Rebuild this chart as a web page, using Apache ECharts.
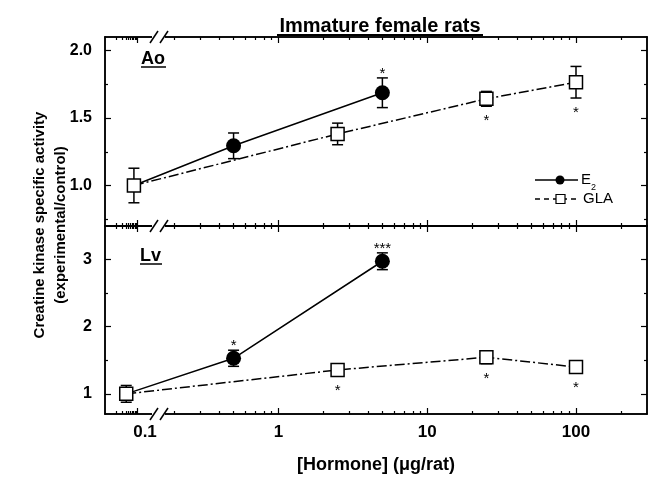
<!DOCTYPE html>
<html>
<head>
<meta charset="utf-8">
<script src="https://cdn.jsdelivr.net/npm/echarts@6/dist/echarts.min.js"></script>
<style>
html,body{margin:0;padding:0;background:#fff;}
#chart{width:648px;height:477px;}
</style>
</head>
<body>
<div id="chart"></div>
<script>
// x axis (log) ticks and labels
var xMajorTicks = [1, 10, 100];
var xMinorTicks = [0.2, 0.3, 0.4, 0.5, 0.6, 0.7, 0.8, 0.9, 2, 3, 4, 5, 6, 7, 8, 9, 20, 30, 40, 50, 60, 70, 80, 90, 200];
// compressed ticks left of the axis break
var breakMinorTicks = [0.081, 0.0893, 0.0946, 0.0985, 0.1017, 0.1043, 0.1066, 0.1087, 0.1104];
var breakMajorTicks = [0.1121];
var xLabelValues = [0.127, 1, 10, 100];
var xLabelTexts = ['0.1', '1', '10', '100'];

// y ticks per panel
var aoMajorTicks = [1.0, 1.5, 2.0];
var aoMinorTicks = [0.75, 1.25, 1.75];
var lvMajorTicks = [1, 2, 3];
var lvMinorTicks = [1.5, 2.5];

// Ao panel
var aoE2X = [0.107, 0.5, 5];
var aoE2Y = [1.0, 1.294, 1.687];
var aoE2Err = [0, 0.095, 0.11];
var aoE2Stars = ['', '', '*'];
var aoGlaX = [0.107, 2.5, 25, 100];
var aoGlaY = [1.0, 1.382, 1.642, 1.765];
var aoGlaErr = [0.128, 0.08, 0.055, 0.117];
var aoGlaStars = ['', '', '*', '*'];

// Lv panel
var lvE2X = [0.095, 0.5, 5];
var lvE2Y = [1.0, 1.53, 2.975];
var lvE2Err = [0, 0.12, 0.125];
var lvE2Stars = ['', '*', '***'];
var lvGlaX = [0.095, 2.5, 25, 100];
var lvGlaY = [1.0, 1.356, 1.545, 1.40];
var lvGlaErr = [0.125, 0.09, 0.095, 0.09];
var lvGlaStars = ['', '*', '*', '*'];

var FONT = '"Liberation Sans", Arial, Helvetica, sans-serif';
var xMin = 0.0684, xMax = 300;
var yMin = [0.7, 0.7], yMax = [2.1, 3.5];
var grids = [
    {left: 105, right: 1, top: 37, height: 189},
    {left: 105, right: 1, top: 226, height: 188}
];

function xAxis(g, pos, ticks, len, labels) {
    return {
        type: 'log', gridIndex: g, position: pos, min: xMin, max: xMax,
        axisLine: {show: true, lineStyle: {color: '#000', width: 1.5}},
        axisTick: {show: true, inside: true, length: len, customValues: ticks, lineStyle: {color: '#000', width: 1.2}},
        axisLabel: labels ? {
            show: true, customValues: xLabelValues, margin: 10,
            color: '#000', fontFamily: FONT, fontWeight: 'bold', fontSize: 17,
            formatter: function (v) {
                var best = 0;
                for (var i = 1; i < xLabelValues.length; i++) {
                    if (Math.abs(Math.log(xLabelValues[i] / v)) < Math.abs(Math.log(xLabelValues[best] / v))) best = i;
                }
                return xLabelTexts[best];
            }
        } : {show: false},
        name: labels ? '[Hormone] (\u03bcg/rat)' : '',
        nameLocation: 'middle', nameGap: 42,
        nameTextStyle: {color: '#000', fontFamily: FONT, fontWeight: 'bold', fontSize: 18},
        splitLine: {show: false}, minorTick: {show: false}, minorSplitLine: {show: false}
    };
}

function yAxis(g, pos, ticks, len, labels, digits) {
    return {
        type: 'value', gridIndex: g, position: pos, min: yMin[g], max: yMax[g],
        axisLine: {show: true, lineStyle: {color: '#000', width: 1.5}},
        axisTick: {show: true, inside: true, length: len, customValues: ticks, lineStyle: {color: '#000', width: 1.2}},
        axisLabel: labels ? {
            show: true, customValues: ticks, margin: 13,
            color: '#000', fontFamily: FONT, fontWeight: 'bold', fontSize: 16,
            formatter: function (v) { return v.toFixed(digits); }
        } : {show: false},
        splitLine: {show: false}, minorTick: {show: false}, minorSplitLine: {show: false}
    };
}

var xAxes = [], yAxes = [];
[0, 1].forEach(function (g) {
    xAxes.push(xAxis(g, 'bottom', xMajorTicks.concat(breakMajorTicks), 6, g === 1));
    xAxes.push(xAxis(g, 'bottom', xMinorTicks.concat(breakMinorTicks), 3, false));
    xAxes.push(xAxis(g, 'top', xMajorTicks.concat(breakMajorTicks), 6, false));
    xAxes.push(xAxis(g, 'top', xMinorTicks.concat(breakMinorTicks), 3, false));
    var maj = g === 0 ? aoMajorTicks : lvMajorTicks;
    var min = g === 0 ? aoMinorTicks : lvMinorTicks;
    var dig = g === 0 ? 1 : 0;
    yAxes.push(yAxis(g, 'left', maj, 6, true, dig));
    yAxes.push(yAxis(g, 'left', min, 3, false, dig));
    yAxes.push(yAxis(g, 'right', maj, 6, false, dig));
    yAxes.push(yAxis(g, 'right', min, 3, false, dig));
});

function errorSeries(g, xs, ys, errs, stars, below) {
    return {
        type: 'custom', xAxisIndex: 4 * g, yAxisIndex: 4 * g, z: 1,
        data: xs.map(function (x, i) { return [x, ys[i], errs[i]]; }),
        renderItem: function (params, api) {
            var x = api.value(0), y = api.value(1), e = api.value(2);
            var hi = api.coord([x, y + e]), lo = api.coord([x, y - e]);
            var st = {stroke: '#000', lineWidth: 1.5};
            var kids = [];
            if (e > 0) {
                kids.push({type: 'line', shape: {x1: hi[0], y1: hi[1], x2: lo[0], y2: lo[1]}, style: st});
                kids.push({type: 'line', shape: {x1: hi[0] - 5.5, y1: hi[1], x2: hi[0] + 5.5, y2: hi[1]}, style: st});
                kids.push({type: 'line', shape: {x1: lo[0] - 5.5, y1: lo[1], x2: lo[0] + 5.5, y2: lo[1]}, style: st});
            }
            var s = stars[params.dataIndex];
            if (s) {
                kids.push({
                    type: 'text', x: hi[0], y: below ? lo[1] + 15 : hi[1] - 4,
                    style: {text: s, fill: '#000', font: '15px ' + FONT, align: 'center', verticalAlign: 'middle'}
                });
            }
            return {type: 'group', children: kids};
        }
    };
}

function e2Series(g, xs, ys) {
    return {
        type: 'line', xAxisIndex: 4 * g, yAxisIndex: 4 * g, z: 3,
        data: xs.map(function (x, i) {
            return i === 0 ? {value: [x, ys[i]], symbol: 'none'} : [x, ys[i]];
        }),
        symbol: 'circle', symbolSize: 15,
        itemStyle: {color: '#000'},
        lineStyle: {color: '#000', width: 1.5, type: 'solid'}
    };
}

function glaSeries(g, xs, ys) {
    return {
        type: 'line', xAxisIndex: 4 * g, yAxisIndex: 4 * g, z: 4,
        data: xs.map(function (x, i) { return [x, ys[i]]; }),
        symbol: 'rect', symbolSize: 13,
        itemStyle: {color: '#fff', borderColor: '#000', borderWidth: 1.5},
        lineStyle: {color: '#000', width: 1.5, type: [10, 3, 2, 3]}
    };
}

function breakMark(y) {
    return [
        {type: 'rect', z: 100, shape: {x: 152, y: y - 2, width: 13, height: 4}, style: {fill: '#fff'}},
        {type: 'line', z: 101, shape: {x1: 150, y1: y + 6, x2: 158, y2: y - 6}, style: {stroke: '#000', lineWidth: 1.5}},
        {type: 'line', z: 101, shape: {x1: 160, y1: y + 6, x2: 168, y2: y - 6}, style: {stroke: '#000', lineWidth: 1.5}}
    ];
}

var graphics = [
    {type: 'text', x: 380, y: 26, z: 100, style: {text: 'Immature female rats', fill: '#000', font: 'bold 20px ' + FONT, align: 'center', verticalAlign: 'middle'}},
    {type: 'line', z: 100, shape: {x1: 277, y1: 35, x2: 483, y2: 35}, style: {stroke: '#000', lineWidth: 2}},
    {type: 'text', x: 50, y: 225, rotation: Math.PI / 2, z: 100,
        style: {text: 'Creatine kinase specific activity\n(experimental/control)', fill: '#000', font: 'bold 15px ' + FONT, align: 'center', verticalAlign: 'middle', lineHeight: 21}},
    {type: 'text', x: 141, y: 59, z: 100, style: {text: 'Ao', fill: '#000', font: 'bold 18px ' + FONT, align: 'left', verticalAlign: 'middle'}},
    {type: 'line', z: 100, shape: {x1: 141, y1: 67, x2: 166, y2: 67}, style: {stroke: '#000', lineWidth: 1.5}},
    {type: 'text', x: 140, y: 256, z: 100, style: {text: 'Lv', fill: '#000', font: 'bold 18px ' + FONT, align: 'left', verticalAlign: 'middle'}},
    {type: 'line', z: 100, shape: {x1: 140, y1: 264, x2: 162, y2: 264}, style: {stroke: '#000', lineWidth: 1.5}},
    // legend
    {type: 'line', z: 100, shape: {x1: 535, y1: 180, x2: 578, y2: 180}, style: {stroke: '#000', lineWidth: 1.5}},
    {type: 'circle', z: 101, shape: {cx: 560, cy: 180, r: 4.5}, style: {fill: '#000'}},
    {type: 'text', x: 581, y: 180, z: 100, style: {text: 'E', fill: '#000', font: '15px ' + FONT, align: 'left', verticalAlign: 'middle'}},
    {type: 'text', x: 591, y: 188, z: 100, style: {text: '2', fill: '#000', font: '9px ' + FONT, align: 'left', verticalAlign: 'middle'}},
    {type: 'line', z: 100, shape: {x1: 535, y1: 199, x2: 578, y2: 199}, style: {stroke: '#000', lineWidth: 1.5, lineDash: [5, 4]}},
    {type: 'rect', z: 101, shape: {x: 556, y: 194.5, width: 9, height: 9}, style: {fill: '#fff', stroke: '#000', lineWidth: 1.2}},
    {type: 'text', x: 583, y: 199, z: 100, style: {text: 'GLA', fill: '#000', font: '15px ' + FONT, align: 'left', verticalAlign: 'middle'}}
].concat(breakMark(37), breakMark(226), breakMark(414));

var myChart = echarts.init(document.getElementById('chart'));
myChart.setOption({
    animation: false,
    backgroundColor: '#fff',
    grid: grids,
    xAxis: xAxes,
    yAxis: yAxes,
    series: [
        errorSeries(0, aoE2X, aoE2Y, aoE2Err, aoE2Stars, false),
        errorSeries(0, aoGlaX, aoGlaY, aoGlaErr, aoGlaStars, true),
        e2Series(0, aoE2X, aoE2Y),
        glaSeries(0, aoGlaX, aoGlaY),
        errorSeries(1, lvE2X, lvE2Y, lvE2Err, lvE2Stars, false),
        errorSeries(1, lvGlaX, lvGlaY, lvGlaErr, lvGlaStars, true),
        e2Series(1, lvE2X, lvE2Y),
        glaSeries(1, lvGlaX, lvGlaY)
    ],
    graphic: graphics
});
</script>
</body>
</html>
